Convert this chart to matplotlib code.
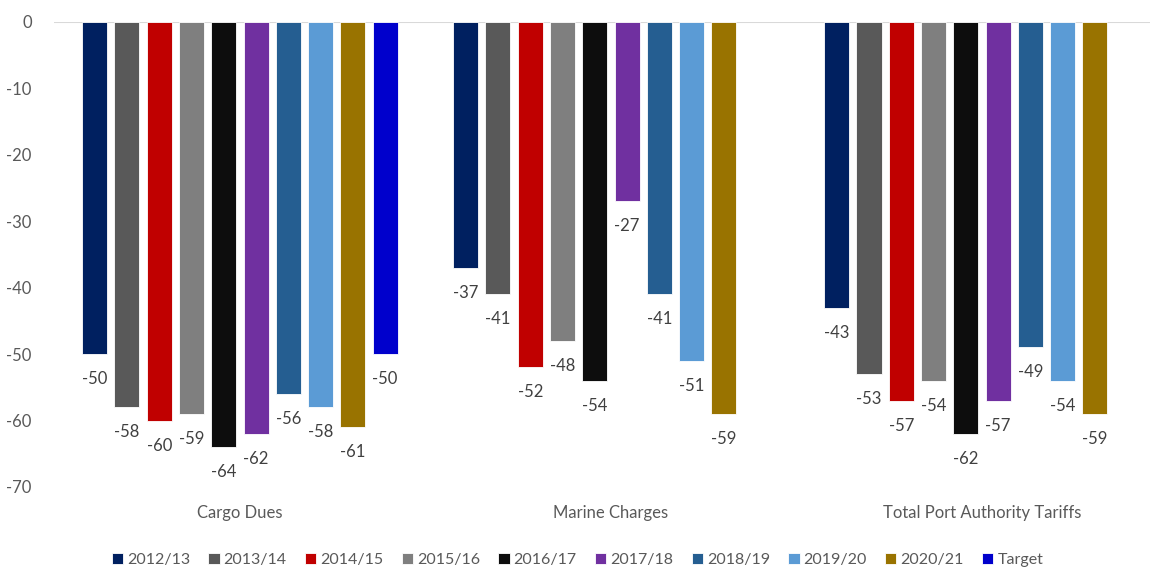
import matplotlib.pyplot as plt
import numpy as np

plt.rcParams['font.family'] = ['Lato', 'DejaVu Sans']
plt.rcParams['axes.unicode_minus'] = False

# Tariff changes (%) per category and year
categories = ['Cargo Dues', 'Marine Charges', 'Total Port Authority Tariffs']
series = ['2012/13', '2013/14', '2014/15', '2015/16', '2016/17',
          '2017/18', '2018/19', '2019/20', '2020/21', 'Target']
values = {
    '2012/13': [-50, -37, -43],
    '2013/14': [-58, -41, -53],
    '2014/15': [-60, -52, -57],
    '2015/16': [-59, -48, -54],
    '2016/17': [-64, -54, -62],
    '2017/18': [-62, -27, -57],
    '2018/19': [-56, -41, -49],
    '2019/20': [-58, -51, -54],
    '2020/21': [-61, -59, -59],
    'Target':  [-50, np.nan, np.nan],
}
colors = ['#002060', '#595959', '#C00000', '#7F7F7F', '#0D0D0D',
          '#7030A0', '#255E91', '#5B9BD5', '#997300', '#0000CC']

fig = plt.figure(figsize=(11.55, 5.67), dpi=100)
ax = fig.add_axes([0.0468, 0.1411, 0.9489, 0.8201])

x = np.arange(len(categories))
slot = 0.087
width = 0.0675
text_col = '#404040'

for i, (name, col) in enumerate(zip(series, colors)):
    offs = (i - (len(series) - 1) / 2) * slot
    vals = np.array(values[name], dtype=float)
    ax.bar(x + offs, vals, width, color=col, label=name, zorder=2,
           edgecolor='white', linewidth=0.6)
    for xi, v in zip(x + offs, vals):
        if np.isnan(v):
            continue
        ax.annotate(f'{v:.0f}', (xi, v), xytext=(0, -18),
                    textcoords='offset points', ha='center', va='center',
                    fontsize=12, color=text_col, annotation_clip=False)

ax.axhline(0, color='#D9D9D9', linewidth=1.5, zorder=1)
ax.set_xlim(-0.501, 2.453)
ax.set_ylim(-70, 0)
ax.set_yticks(np.arange(-70, 1, 10))
ax.tick_params(axis='y', length=0, pad=16, labelsize=12, labelcolor='#595959')
ax.set_xticks(x)
ax.set_xticklabels(categories)
ax.tick_params(axis='x', length=0, pad=13, labelsize=12, labelcolor='#595959')
for s in ax.spines.values():
    s.set_visible(False)

fig.legend(loc='lower center', bbox_to_anchor=(0.5, -0.026), ncol=10,
           frameon=False, fontsize=11.5, handlelength=0.7, handleheight=0.7,
           handletextpad=0.25, columnspacing=1.15, labelcolor='#595959')

fig.savefig('out.png', dpi=100)
